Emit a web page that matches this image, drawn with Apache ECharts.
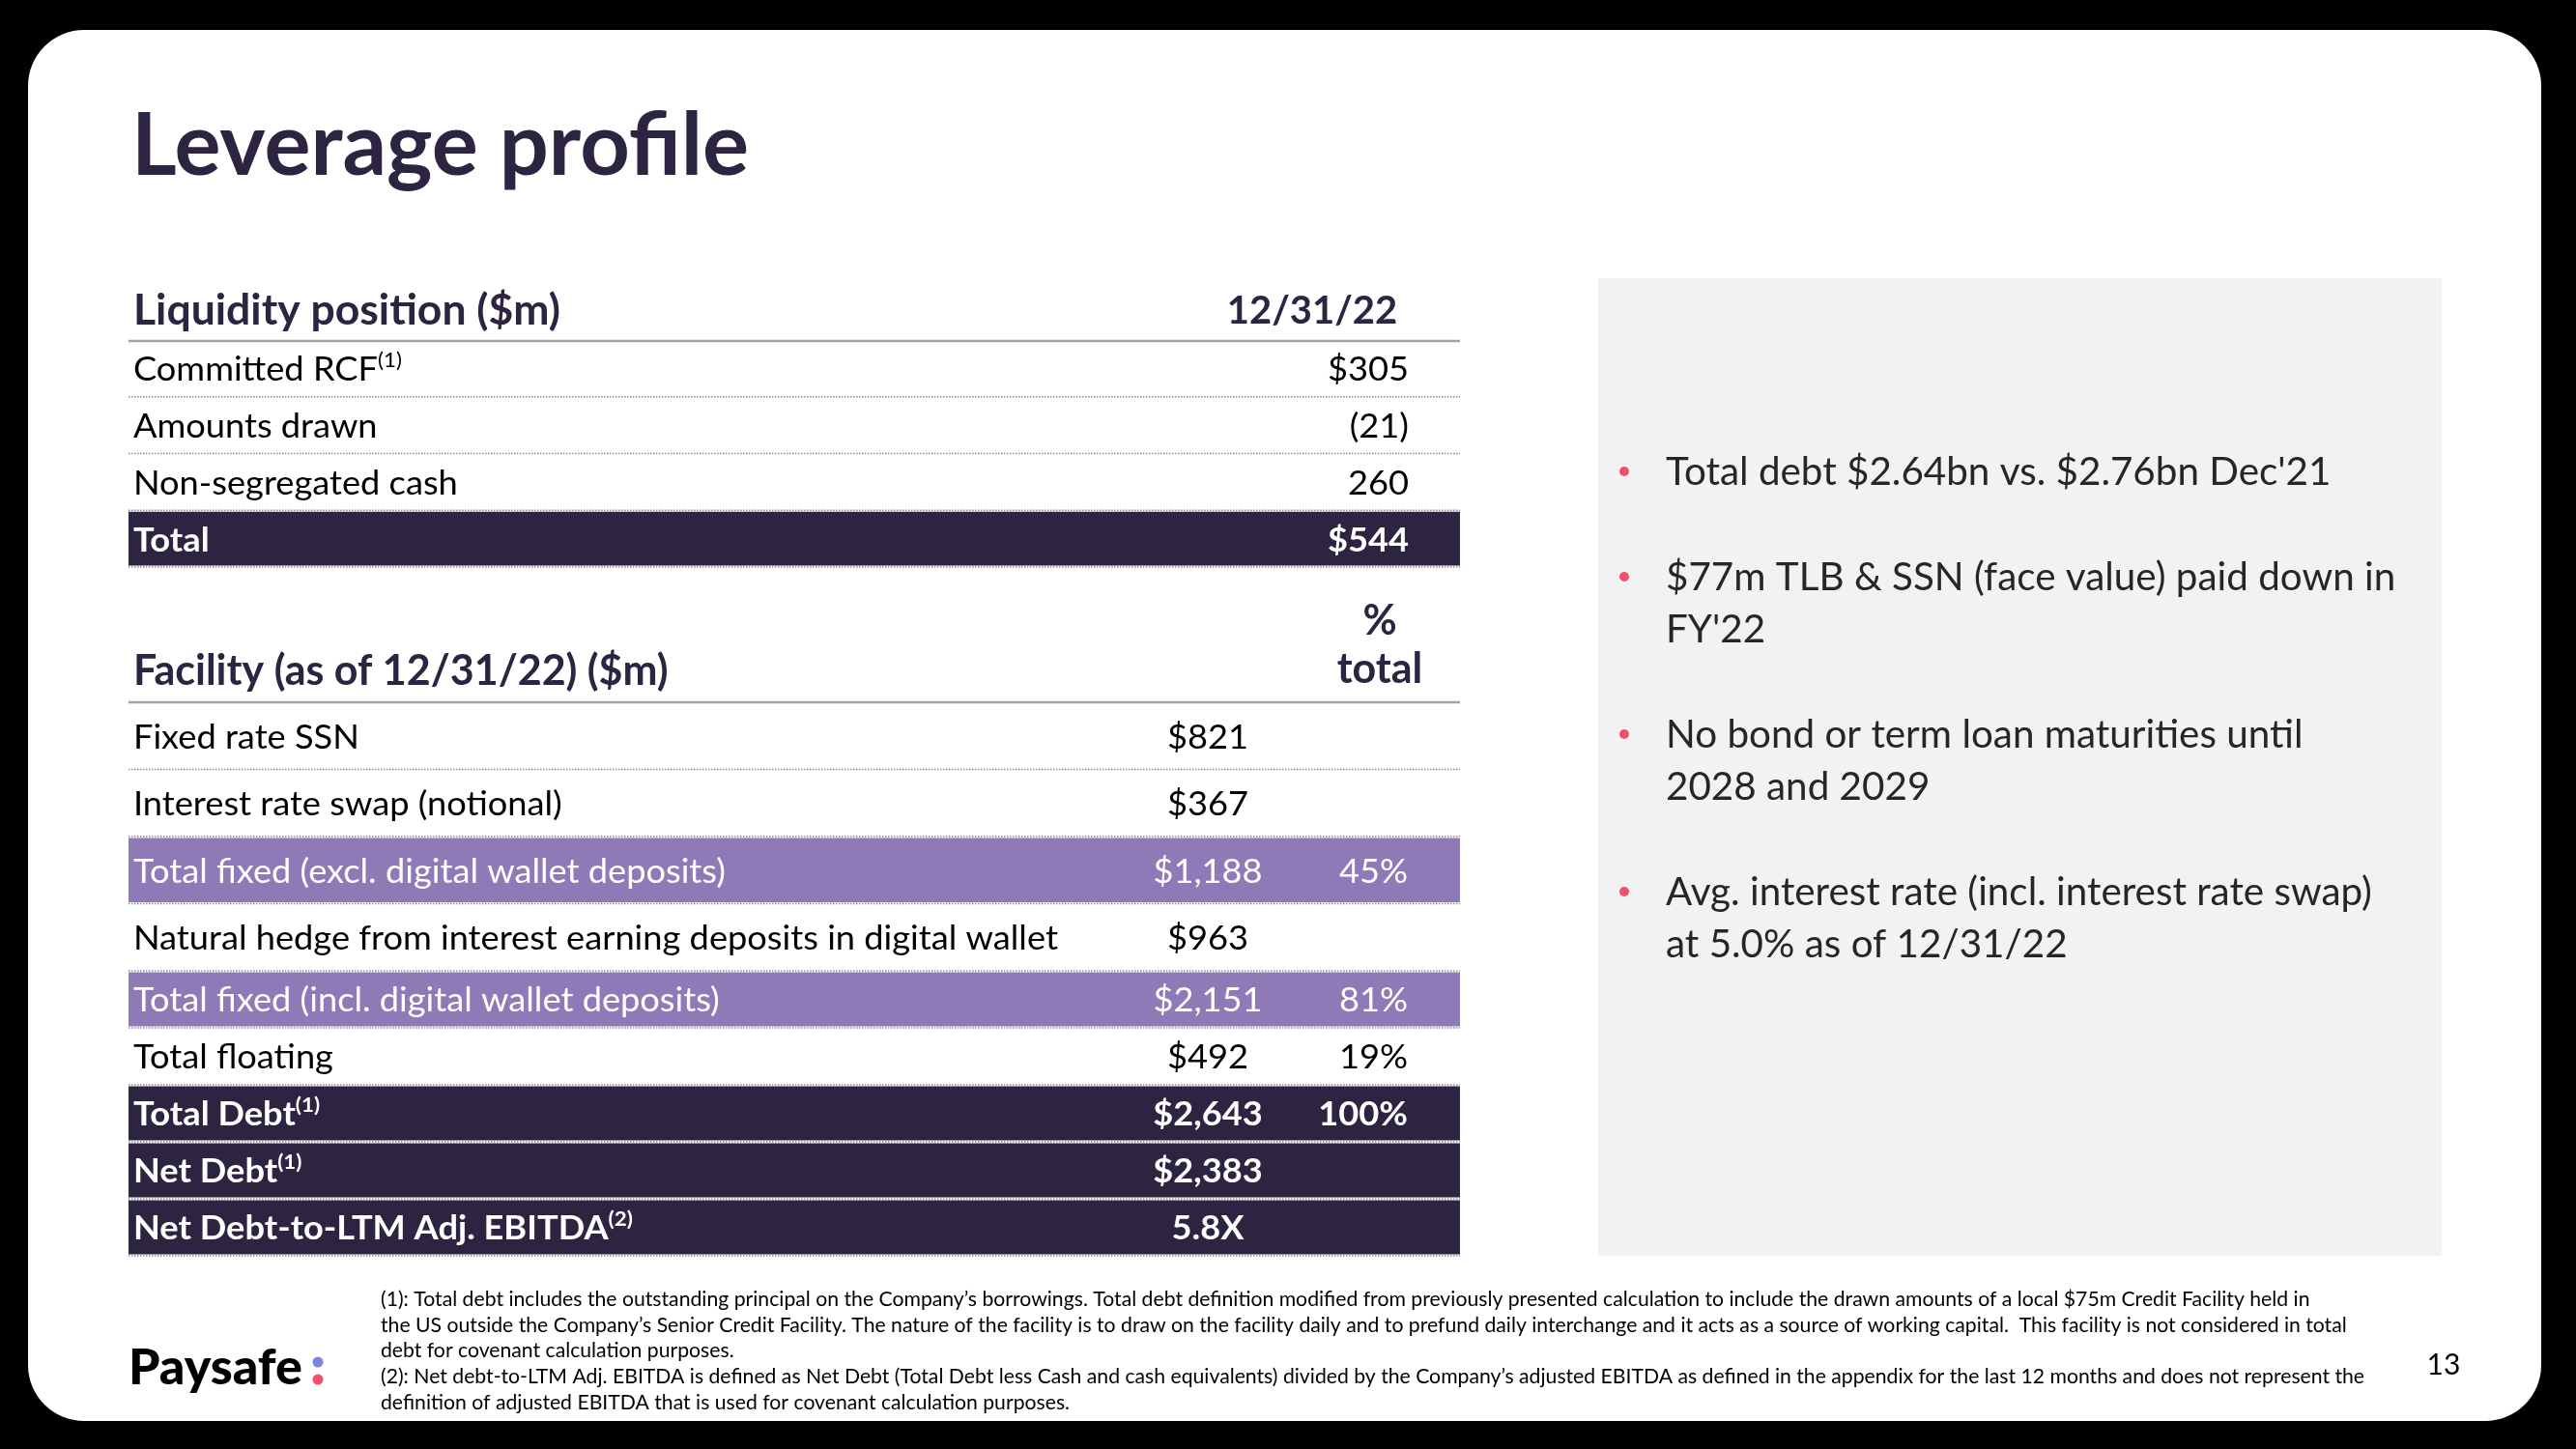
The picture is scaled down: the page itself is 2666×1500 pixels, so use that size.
<!DOCTYPE html>
<html>
<head>
<meta charset="utf-8">
<script src="https://cdn.jsdelivr.net/npm/echarts@6/dist/echarts.min.js"></script>
<style>
html,body{margin:0;padding:0;background:#000;}
#c{width:2666px;height:1500px;}
</style>
</head>
<body>
<div id="c"></div>
<script>
// ================= DATA =================
const pageTitle = 'Leverage profile';

const liquidityTitle = 'Liquidity position ($m)';
const liquidityDate = '12/31/22';
const liquidityRows = ['Committed RCF', 'Amounts drawn', 'Non-segregated cash', 'Total'];
const liquidityNotes = ['(1)', '', '', ''];
const liquidityValues = [305, -21, 260, 544];

const facilityTitle = 'Facility (as of 12/31/22) ($m)';
const facilityPctHeader = '%\ntotal';
const facilityRows = [
  'Fixed rate SSN',
  'Interest rate swap (notional)',
  'Total fixed (excl. digital wallet deposits)',
  'Natural hedge from interest earning deposits in digital wallet',
  'Total fixed (incl. digital wallet deposits)',
  'Total floating',
  'Total Debt',
  'Net Debt',
  'Net Debt-to-LTM Adj. EBITDA'
];
const facilityNotes = ['', '', '', '', '', '', '(1)', '(1)', '(2)'];
const facilityAmounts = [821, 367, 1188, 963, 2151, 492, 2643, 2383, 5.8];
const facilityPct = [null, null, 45, null, 81, 19, 100, null, null];

const bullets = [
  ["Total debt $2.64bn vs. $2.76bn Dec'21"],
  ["$77m TLB & SSN (face value) paid down in", "FY'22"],
  ["No bond or term loan maturities until", "2028 and 2029"],
  ["Avg. interest rate (incl. interest rate swap)", "at 5.0% as of 12/31/22"]
];

const footnotes = [
  "(1): Total debt includes the outstanding principal on the Company\u2019s borrowings. Total debt definition modified from previously presented calculation to include the drawn amounts of a local $75m Credit Facility held in",
  "the US outside the Company\u2019s Senior Credit Facility. The nature of the facility is to draw on the facility daily and to prefund daily interchange and it acts as a source of working capital.  This facility is not considered in total",
  "debt for covenant calculation purposes.",
  "(2): Net debt-to-LTM Adj. EBITDA is defined as Net Debt (Total Debt less Cash and cash equivalents) divided by the Company\u2019s adjusted EBITDA as defined in the appendix for the last 12 months and does not represent the",
  "definition of adjusted EBITDA that is used for covenant calculation purposes."
];
const logoText = 'Paysafe';
const pageNumber = '13';

// ================= STYLE / FORMAT =================
const liquidityKinds = ['plain', 'plain', 'plain', 'dark'];
const liquidityDollar = [true, false, false, true];
const facilityKinds = ['plain', 'plain', 'purple', 'plain', 'purple', 'plain', 'dark', 'dark', 'dark'];
const facilityUnit = ['$', '$', '$', '$', '$', '$', '$', '$', 'x'];

const FONT = 'Lato, "Noto Sans", sans-serif';
const BODY_SIZE = 34;
const BODY_SCALE = 1.065;
const TEXT_DY = 2;
const NAVY = '#2d2442';
const PURPLE = '#8d7ab6';
const KIND_STYLE = {
  plain:  { fill: null,   color: '#000000', weight: 'normal' },
  purple: { fill: PURPLE, color: '#ffffff', weight: 'normal' },
  dark:   { fill: NAVY,   color: '#ffffff', weight: 'bold' }
};

function fmtMoney(v, dollar) {
  if (v < 0) return '(' + Math.abs(v).toLocaleString('en-US') + ')';
  return (dollar ? '$' : '') + v.toLocaleString('en-US');
}
function fmtAmount(v, unit) {
  if (v == null) return '';
  if (unit === 'x') return v.toFixed(1) + 'X';
  return '$' + v.toLocaleString('en-US');
}
function fmtPct(v) { return v == null ? '' : v + '%'; }

const liquidityText = liquidityValues.map((v, i) => fmtMoney(v, liquidityDollar[i]));
const facilityAmountText = facilityAmounts.map((v, i) => fmtAmount(v, facilityUnit[i]));
const facilityPctText = facilityPct.map(fmtPct);

// table series built on a category y axis (one band per row)
function tableSeries(idx, rows, notes, kinds, cols) {
  return {
    type: 'custom',
    coordinateSystem: 'cartesian2d',
    xAxisIndex: idx,
    yAxisIndex: idx,
    silent: true,
    animation: false,
    z: 10,
    data: rows.map((r, i) => [0, i]),
    renderItem: function (params, api) {
      const i = api.value(1);
      const c = api.coord([0, i]);
      const h = api.size([0, 1])[1];
      const cs = params.coordSys;
      const top = c[1] - h / 2;
      const ks = KIND_STYLE[kinds[i]];
      const children = [];
      if (ks.fill) {
        children.push({ type: 'rect', shape: { x: cs.x, y: top + 1.5, width: cs.width, height: h - 3 }, style: { fill: ks.fill } });
      }
      children.push({ type: 'line', shape: { x1: cs.x, y1: top + h, x2: cs.x + cs.width, y2: top + h },
        style: { stroke: '#8a8a8a', lineWidth: 1.5, lineDash: [1.5, 1.5] } });
      const rich = {
        m: { fontSize: BODY_SIZE, fontFamily: FONT, fontWeight: ks.weight, fill: ks.color, lineHeight: 42 },
        s: { fontSize: 21, fontFamily: FONT, fontWeight: ks.weight, fill: ks.color, lineHeight: 27, verticalAlign: 'top' }
      };
      const label = '{m|' + rows[i] + '}' + (notes[i] ? '{s|' + notes[i] + '}' : '');
      children.push({ type: 'text', x: cs.x + 5, y: c[1] + TEXT_DY, scaleX: BODY_SCALE,
        style: { text: label, rich: rich, x: 0, y: 0, align: 'left', textAlign: 'left', verticalAlign: 'middle', textVerticalAlign: 'middle' } });
      cols.forEach(col => {
        const t = col.texts[i];
        if (!t) return;
        children.push({ type: 'text', x: cs.x + col.x, y: c[1] + TEXT_DY, scaleX: BODY_SCALE, style: {
          text: t, x: 0, y: 0, fill: ks.color, fontSize: BODY_SIZE, fontFamily: FONT, fontWeight: ks.weight,
          align: col.align, textAlign: col.align, verticalAlign: 'middle', textVerticalAlign: 'middle' } });
      });
      return { type: 'group', children: children };
    }
  };
}

const facA = [0, 4];   // rows in first facility block
const facB = [4, 9];   // rows in second facility block
const sl = (arr, r) => arr.slice(r[0], r[1]);

const grids = [
  { left: 133, width: 1378, top: 352, height: 235, show: false },
  { left: 133, width: 1378, top: 727, height: 278, show: false },
  { left: 133, width: 1378, top: 1005, height: 295, show: false }
];
const xAxes = grids.map((g, i) => ({ type: 'value', gridIndex: i, min: 0, max: 1, show: false }));
const yAxes = [
  { type: 'category', gridIndex: 0, inverse: true, show: false, data: liquidityRows },
  { type: 'category', gridIndex: 1, inverse: true, show: false, data: sl(facilityRows, facA) },
  { type: 'category', gridIndex: 2, inverse: true, show: false, data: sl(facilityRows, facB) }
];

const series = [
  tableSeries(0, liquidityRows, liquidityNotes, liquidityKinds,
    [{ texts: liquidityText, x: 1325, align: 'right' }]),
  tableSeries(1, sl(facilityRows, facA), sl(facilityNotes, facA), sl(facilityKinds, facA),
    [{ texts: sl(facilityAmountText, facA), x: 1117, align: 'center' }, { texts: sl(facilityPctText, facA), x: 1324, align: 'right' }]),
  tableSeries(2, sl(facilityRows, facB), sl(facilityNotes, facB), sl(facilityKinds, facB),
    [{ texts: sl(facilityAmountText, facB), x: 1117, align: 'center' }, { texts: sl(facilityPctText, facB), x: 1324, align: 'right' }])
];

// ================= GRAPHIC (page furniture) =================
function txt(x, y, text, opt) {
  return Object.assign({ type: 'text', x: x, y: y, z: 5, silent: true,
    style: Object.assign({ text: text, fontFamily: FONT, fill: '#000', align: 'left', textAlign: 'left', verticalAlign: 'middle', textVerticalAlign: 'middle' }, opt) });
}
const elements = [];
elements.push({ type: 'rect', z: 0, silent: true, shape: { x: 29, y: 31, width: 2601, height: 1440, r: 58 }, style: { fill: '#ffffff' } });
elements.push({ type: 'rect', z: 1, silent: true, shape: { x: 1654, y: 288, width: 873, height: 1012 }, style: { fill: '#f2f2f2' } });
elements.push(txt(136, 152, pageTitle, { fontSize: 90, fontWeight: 'bold', fill: NAVY }));
// table headers
elements.push(txt(138, 322, liquidityTitle, { fontSize: 44.5, fontWeight: 'bold', fill: NAVY }));
elements.push(txt(1358, 322, liquidityDate, { fontSize: 40, fontWeight: 'bold', fill: NAVY, align: 'center', textAlign: 'center' }));
elements.push({ type: 'line', z: 5, silent: true, shape: { x1: 133, y1: 353, x2: 1511, y2: 353 }, style: { stroke: '#a3a3a3', lineWidth: 2.5 } });
elements.push(txt(138, 695, facilityTitle, { fontSize: 43, fontWeight: 'bold', fill: NAVY }));
elements.push(txt(1428, 668, facilityPctHeader, { fontSize: 43, fontWeight: 'bold', fill: NAVY, align: 'center', textAlign: 'center', lineHeight: 50 }));
elements.push({ type: 'line', z: 5, silent: true, shape: { x1: 133, y1: 727, x2: 1511, y2: 727 }, style: { stroke: '#a3a3a3', lineWidth: 2.5 } });
// bullets
let lineIdx = 0;
bullets.forEach((para, p) => {
  para.forEach((line, k) => {
    const y = 489 + 54 * lineIdx + 55 * p;
    if (k === 0) elements.push({ type: 'circle', z: 5, silent: true, shape: { cx: 1681, cy: y - 1, r: 5 }, style: { fill: '#f0506e' } });
    elements.push(txt(1724, y, line, { fontSize: 40.4, fill: '#262626' }));
    lineIdx++;
  });
});
// footnotes
footnotes.forEach((line, k) => {
  elements.push(txt(394, 1345 + 26.75 * k, line, { fontSize: 21.2, fill: '#000' }));
});
// logo
elements.push(txt(133, 1416, logoText, { fontSize: 52, fontWeight: 900, fill: '#000' }));
elements.push({ type: 'circle', z: 5, silent: true, shape: { cx: 329, cy: 1410, r: 5.5 }, style: { fill: '#7b86e2' } });
elements.push({ type: 'circle', z: 5, silent: true, shape: { cx: 329, cy: 1428, r: 5.5 }, style: { fill: '#f0506e' } });
elements.push(txt(2529, 1413, pageNumber, { fontSize: 30, fill: '#000', align: 'center', textAlign: 'center' }));

const chart = echarts.init(document.getElementById('c'), null, { renderer: 'canvas' });
chart.setOption({
  backgroundColor: '#000000',
  animation: false,
  grid: grids,
  xAxis: xAxes,
  yAxis: yAxes,
  series: series,
  graphic: { elements: elements }
});
</script>
</body>
</html>
